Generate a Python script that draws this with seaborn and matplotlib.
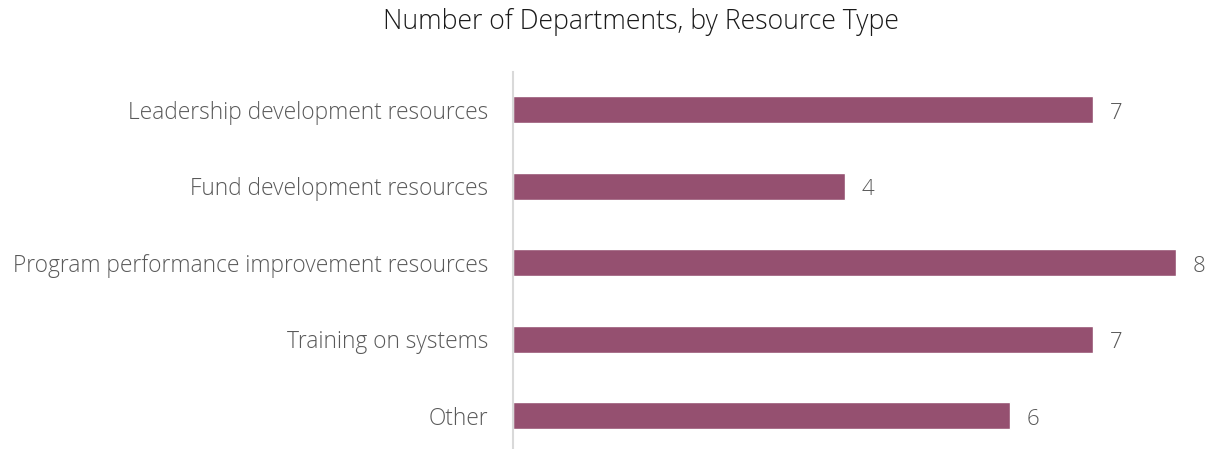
import matplotlib
matplotlib.use("Agg")
import matplotlib.pyplot as plt
import seaborn as sns
import pandas as pd

categories = ['Leadership development resources', 'Fund development resources',
              'Program performance improvement resources', 'Training on systems', 'Other']
counts = [7, 4, 8, 7, 6]

df = pd.DataFrame({'Resource': categories, 'Departments': counts})

sns.set_theme(style='white')
plt.rcParams['font.family'] = ['Open Sans', 'DejaVu Sans']
plt.rcParams['font.weight'] = 'light'

fig = plt.figure(figsize=(12.12, 4.49), dpi=100)
ax = fig.add_axes([513 / 1212, -5 / 449, (1176 - 513) / 1212, 382.5 / 449])

sns.barplot(data=df, x='Departments', y='Resource', color='#955070',
            width=0.35, ax=ax, saturation=1)

for c in ax.containers:
    labels = ax.bar_label(c, padding=12, fontsize=16, color='#595959', fontweight='light')
    for t in labels:
        t.xyann = (12, -2.5)

ax.set_xlim(0, 8)
ax.set_ylim(4.5, -0.5)
ax.set_xlabel('')
ax.set_ylabel('')
ax.set_xticks([])
ax.tick_params(axis='y', length=0, pad=18, labelsize=16.4, labelcolor='#595959')
for s in ['top', 'right', 'bottom']:
    ax.spines[s].set_visible(False)
ax.spines['left'].set_color('#d9d9d9')
ax.spines['left'].set_linewidth(1.5)

fig.text(641 / 1212, 1 - 22 / 449, 'Number of Departments, by Resource Type',
         ha='center', va='center', fontsize=19.2, color='#1a1a1a', fontweight='light')

fig.savefig('out.png', dpi=100)
